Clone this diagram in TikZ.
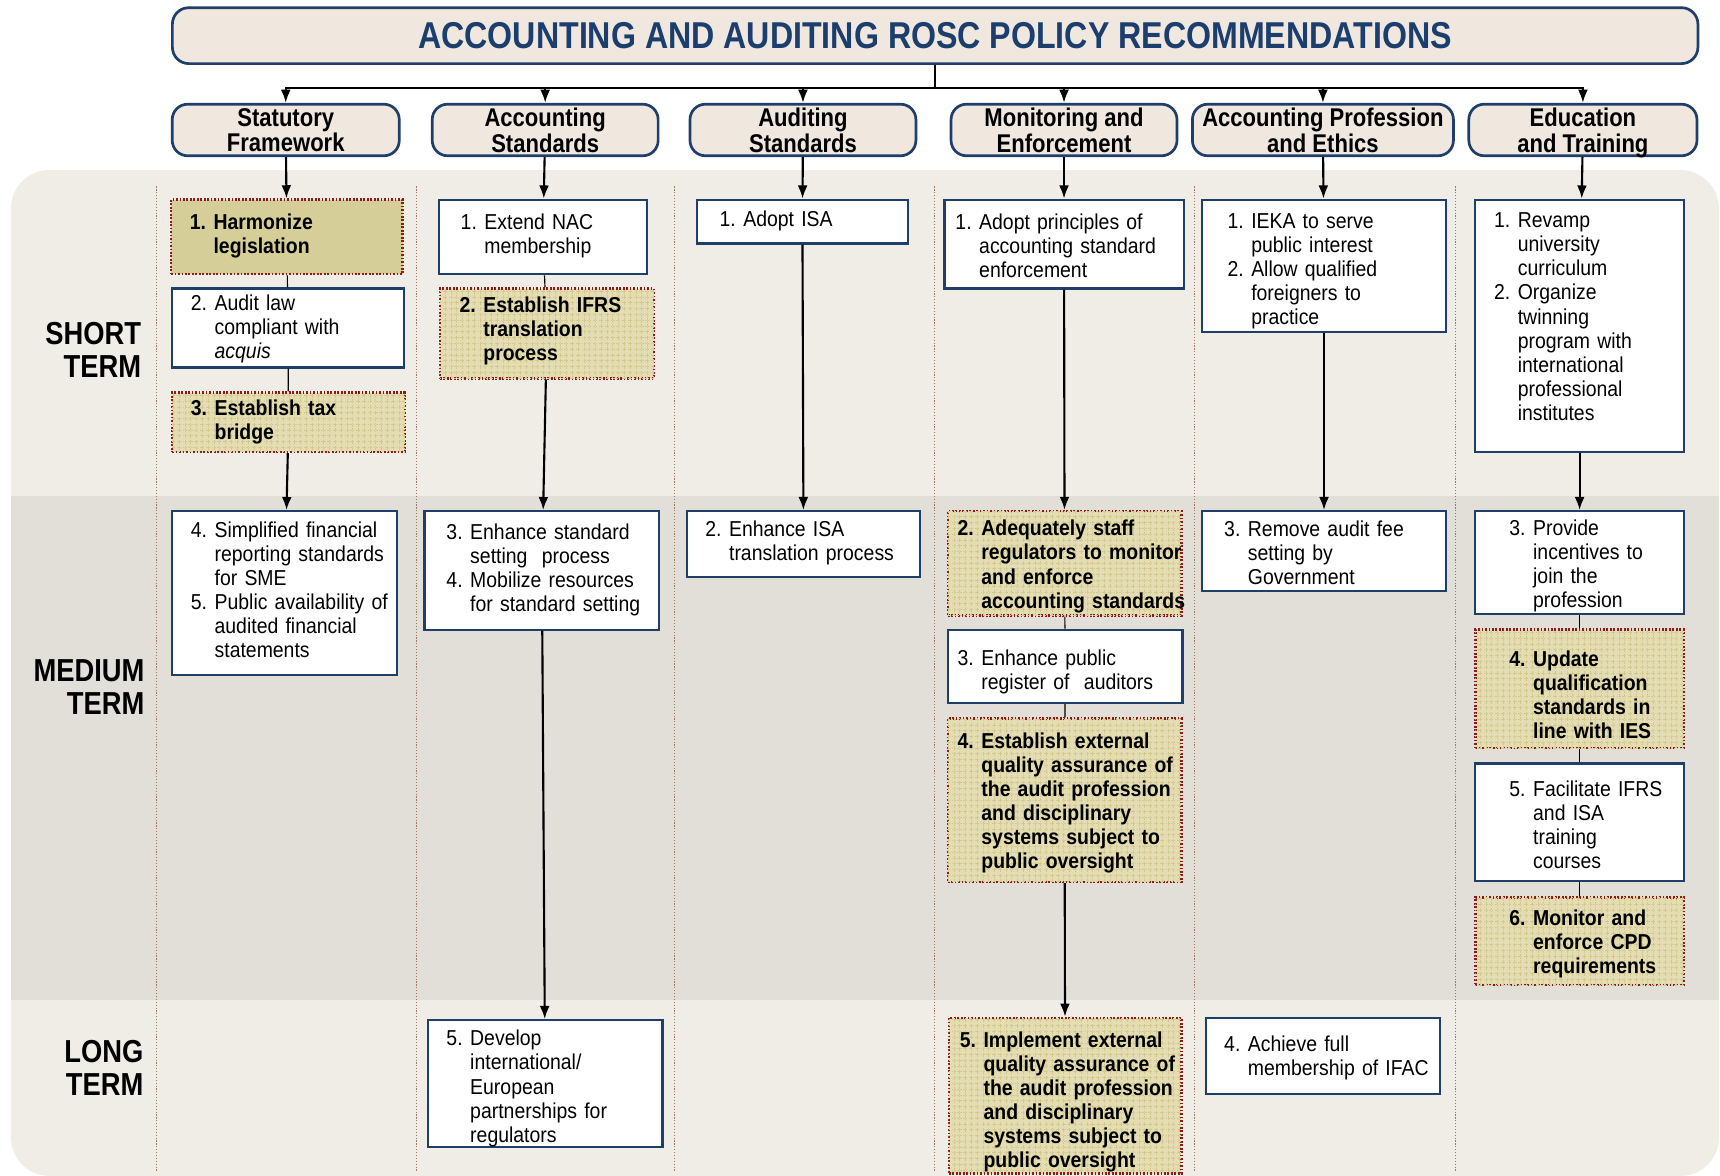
\documentclass[tikz,border=0pt]{standalone}
\usepackage{fontspec}
\setmainfont{Liberation Sans}[FakeStretch=0.86]
\newfontfamily\bodyfont{Liberation Sans}[FakeStretch=0.9]
\usepackage{tikz}
\usetikzlibrary{arrows.meta, positioning, patterns}

\definecolor{ramka}{HTML}{1F3F6B}
\definecolor{tytul}{HTML}{1B3E6E}
\definecolor{naglowek}{HTML}{F0E8DF}
\definecolor{kropki}{HTML}{8E1B1B}
\definecolor{khaki}{HTML}{E4DDB3}
\definecolor{khakisiatka}{HTML}{D3C98F}
\definecolor{khakipelne}{HTML}{D6CE98}
\definecolor{tlokrotki}{HTML}{F0EDE7}
\definecolor{tlosredni}{HTML}{E2DFD9}
\definecolor{separator}{HTML}{A07860}

% lista numerowana z wcieciem (opcjonalne przesuniecie w pionie)
\newcommand{\steps}[2][0pt]{\raisebox{#1}[\height][\depth]{\begin{tabular}{@{}l@{\hspace{0.35em}}l@{}}#2\end{tabular}}}
% dwuwierszowy naglowek kolumny
\newcommand{\twoline}[1]{\raisebox{-1.8pt}[\height][\depth]{\begin{tabular}{@{}c@{}}#1\end{tabular}}}

\begin{document}
\begin{tikzpicture}[
			x=0.02cm, y=-0.02cm,
			>={Latex[length=2.4mm,width=1.8mm]},
			hdr/.style={draw=ramka, line width=1.4pt, fill=naglowek, rounded corners=0.28cm, minimum height=0.94cm, inner sep=0pt, font=\bfseries\fontsize{13.3}{12}\selectfont},
			recbox/.style={draw=ramka, line width=1.1pt, fill=white, inner xsep=0.34cm, inner ysep=0pt, font=\bodyfont\fontsize{11.2}{12.5}\selectfont},
			keyflat/.style={recbox, draw=kropki, line width=1.3pt, dash pattern=on 0.9pt off 0.9pt, fill=khakipelne, font=\bodyfont\bfseries\fontsize{11.2}{12.5}\selectfont},
			keybox/.style={keyflat, fill=khaki, postaction={pattern=grid, pattern color=khakisiatka}},
			sz/.style 2 args={text width=#1cm, minimum height=#2cm},
			termlbl/.style={anchor=east, align=right, inner sep=0pt, font=\bfseries\fontsize{16.5}{17}\selectfont},
			flow/.style={->, line width=1.1pt},
			link/.style={line width=0.6pt},
			sep/.style={separator, line width=0.5pt, dash pattern=on 0.6pt off 0.9pt}
			]
			\useasboundingbox (0,0) rectangle (1568,1072);
			
			% --- Tlo (pasy terminow) ---
			\fill[tlokrotki, rounded corners=0.7cm] (10,155) rectangle (1567,1072);
			\fill[tlosredni] (10,452) rectangle (1567,912);
			\foreach \x in {143,380,615,852,1089,1327}
				\draw[sep] (\x,170) -- (\x,1068);
			
			% --- Tytul i naglowki kolumn ---
			\node[hdr, minimum width=27.82cm, minimum height=1.02cm, rounded corners=0.3cm, text=tytul, font=\bfseries\fontsize{19.4}{20}\selectfont] (title) at (852.5,32.5) {ACCOUNTING AND AUDITING ROSC POLICY RECOMMENDATIONS};
			\node[hdr, minimum width=4.14cm] (h1) at (260.5,118.5) {\twoline{Statutory\\Framework}};
			\node[hdr, minimum width=4.12cm] (h2) at (497,118.5) {\twoline{Accounting\\Standards}};
			\node[hdr, minimum width=4.12cm] (h3) at (732,118.5) {\twoline{Auditing\\Standards}};
			\node[hdr, minimum width=4.12cm] (h4) at (970,118.5) {\twoline{Monitoring and\\Enforcement}};
			\node[hdr, minimum width=4.76cm] (h5) at (1206,118.5) {\twoline{Accounting Profession\\and Ethics}};
			\node[hdr, minimum width=4.16cm] (h6) at (1443,118.5) {\twoline{Education\\and Training}};
			
			% --- Etykiety terminow ---
			\node[termlbl] (short) at (129,319) {SHORT\\TERM};
			\node[termlbl] (medium) at (132,626.5) {MEDIUM\\TERM};
			\node[termlbl] (long) at (131,973.5) {LONG\\TERM};
			
			% --- Statutory Framework ---
			\node[keyflat, sz={3.54}{1.36}] (sf1) at (261.5,216) {\steps{1.& Harmonize\\ & legislation}};
			\node[recbox, sz={3.54}{1.44}] (sf2) at (262.5,299) {\steps[-0.8pt]{2.& Audit law\\ & compliant with\\ & \textit{acquis}}};
			\node[keybox, sz={3.56}{1.08}] (sf3) at (263,385) {\steps{3.& Establish tax\\ & bridge}};
			\node[recbox, sz={3.42}{2.98}] (sf4) at (259.5,540.5) {\steps{4.& Simplified financial\\ & reporting standards\\ & for SME\\ 5.& Public availability of\\ & audited financial\\ & statements}};
			
			% --- Accounting Standards ---
			\node[recbox, inner xsep=0.4cm, sz={3.0}{1.36}] (as1) at (495,216) {\steps{1.& Extend NAC\\ & membership}};
			\node[keybox, inner xsep=0.36cm, sz={3.18}{1.64}] (as2) at (498.5,304) {\steps[0.8pt]{2.& Establish IFRS\\ & translation\\ & process}};
			\node[recbox, inner xsep=0.4cm, sz={3.48}{2.16}] (as3) at (494,520) {\steps{3.& Enhance standard\\ & setting~ process\\ 4.& Mobilize resources\\ & for standard setting}};
			\node[recbox, sz={3.6}{2.32}] (as5) at (497,988) {\steps[-2.8pt]{5.& Develop\\ & international/\\ & European\\ & partnerships for\\ & regulators}};
			
			% --- Auditing Standards ---
			\node[recbox, inner xsep=0.42cm, sz={3.02}{0.8}] (au1) at (731.5,202) {\steps{1.& Adopt ISA}};
			\node[recbox, sz={3.58}{1.2}] (au2) at (732.5,496) {\steps{2.& Enhance ISA\\ & translation process}};
			
			% --- Monitoring and Enforcement ---
			\node[recbox, inner xsep=0.2cm, sz={3.96}{1.62}] (me1) at (970,222.5) {\steps[-2.3pt]{1.& Adopt principles of\\ & accounting standard\\ & enforcement}};
			\node[keybox, inner xsep=0.18cm, sz={3.9}{1.9}] (me2) at (970.5,513.5) {\steps[-2pt]{2.& Adequately staff\\ & regulators to monitor\\ & and enforce\\ & accounting standards}};
			\node[recbox, inner xsep=0.18cm, sz={3.92}{1.34}] (me3) at (971,607.5) {\steps[-3.4pt]{3.& Enhance public\\ & register of~ auditors}};
			\node[keybox, inner xsep=0.18cm, sz={3.9}{2.98}] (me4) at (970.5,729.5) {\steps[-1.7pt]{4.& Establish external\\ & quality assurance of\\ & the audit profession\\ & and disciplinary\\ & systems subject to\\ & public oversight}};
			\node[keybox, inner xsep=0.2cm, sz={3.84}{2.84}] (me5) at (971,999) {\steps[-3.4pt]{5.& Implement external\\ & quality assurance of\\ & the audit profession\\ & and disciplinary\\ & systems subject to\\ & public oversight}};
			
			% --- Accounting Profession and Ethics ---
			\node[recbox, inner xsep=0.46cm, sz={3.52}{2.42}] (pe1) at (1207,242.5) {\steps[-2.8pt]{1.& IEKA to serve\\ & public interest\\ 2.& Allow qualified\\ & foreigners to\\ & practice}};
			\node[recbox, inner xsep=0.4cm, sz={3.64}{1.46}] (pe3) at (1207,502.5) {\steps[-2.2pt]{3.& Remove audit fee\\ & setting by\\ & Government}};
			\node[recbox, sz={3.6}{1.38}] (pe4) at (1206,962.5) {\steps[-1.7pt]{4.& Achieve full\\ & membership of IFAC}};
			
			% --- Education and Training ---
			\node[recbox, sz={3.12}{4.6}] (et1) at (1440,297) {\steps[3.4pt]{1.& Revamp\\ & university\\ & curriculum\\ 2.& Organize\\ & twinning\\ & program with\\ & international\\ & professional\\ & institutes}};
			\node[recbox, inner xsep=0.62cm, sz={2.56}{1.88}] (et3) at (1440,513) {\steps[-2.2pt]{3.& Provide\\ & incentives to\\ & join the\\ & profession}};
			\node[keybox, inner xsep=0.62cm, sz={2.56}{2.16}] (et4) at (1440,628) {\steps[-4.5pt]{4.& Update\\ & qualification\\ & standards in\\ & line with IES}};
			\node[recbox, inner xsep=0.62cm, sz={2.56}{2.14}] (et5) at (1440,749.5) {\steps[-2.8pt]{5.& Facilitate IFRS\\ & and ISA\\ & training\\ & courses}};
			\node[keybox, inner xsep=0.62cm, sz={2.56}{1.6}] (et6) at (1440,858) {\steps[-1.7pt]{6.& Monitor and\\ & enforce CPD\\ & requirements}};
			
			% --- Strzalki od tytulu do naglowkow ---
			\path (title.south) ++(0,21) coordinate (bus);
			\foreach \h in {h1,h2,h3,h4,h5,h6}
				\draw[flow] (title.south) -- (bus) -| (\h.north);
			
			% --- Polaczenia w kolumnach ---
			\draw[flow] (h1) -- (sf1);
			\draw[link] (sf1) -- (sf2);
			\draw[link] (sf2) -- (sf3);
			\draw[flow] (sf3) -- (sf4);
			
			\draw[flow] (h2) -- (as1);
			\draw[link] (as1) -- (as2);
			\draw[flow] (as2) -- (as3);
			\draw[flow] (as3) -- (as5);
			
			\draw[flow] (h3) -- (au1);
			\draw[flow] (au1) -- (au2);
			
			\draw[flow] (h4) -- (me1);
			\draw[flow] (me1) -- (me2);
			\draw[link] (me2) -- (me3);
			\draw[link] (me3) -- (me4);
			\draw[flow] (me4) -- (me5);
			
			\draw[flow] (h5) -- (pe1);
			\draw[flow] (pe1) -- (pe3);
			
			\draw[flow] (h6) -- (et1);
			\draw[flow] (et1) -- (et3);
			\draw[link] (et3) -- (et4);
			\draw[link] (et4) -- (et5);
			\draw[link] (et5) -- (et6);
			
		\end{tikzpicture}
\end{document}
